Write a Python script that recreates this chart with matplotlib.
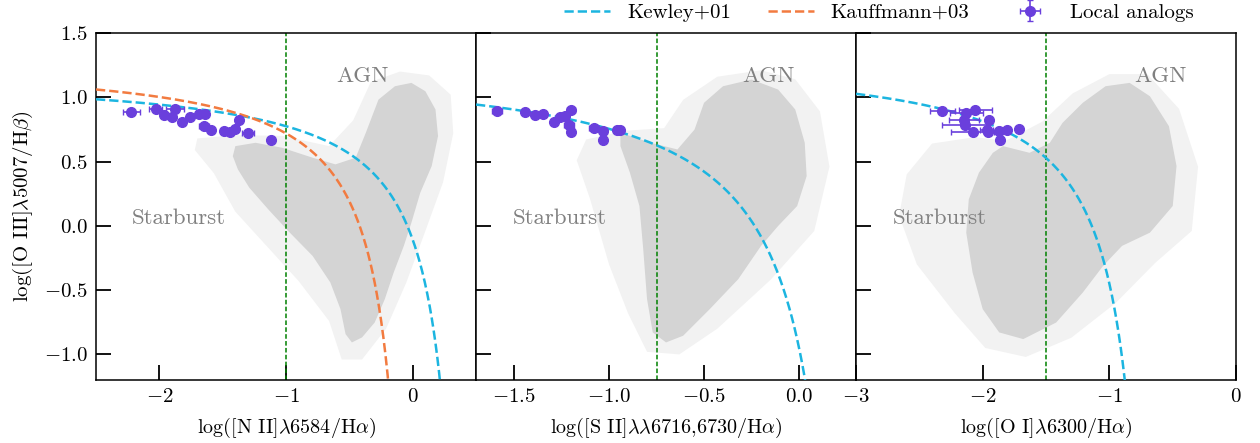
import numpy as np
import matplotlib
matplotlib.use('Agg')
import matplotlib.pyplot as plt
from matplotlib.patches import Polygon

plt.rcParams['font.family'] = 'serif'
plt.rcParams['font.serif'] = ['cmr10']
plt.rcParams['mathtext.fontset'] = 'cm'
plt.rcParams['axes.formatter.use_mathtext'] = True
plt.rcParams['font.size'] = 15

C_KEW  = '#1cb5e0'
C_KAU  = '#f27b40'
C_PTS  = '#6a3fdc'
C_CLD  = '#d4d4d4'
C_HALO = '#f2f2f2'

# ── Demarcation lines: y = a / (x - b) + c ─────────────────────────────────────
KEW_NII = [0.61, 0.47, 1.19]
KEW_SII = [0.72, 0.32, 1.30]
KEW_OI  = [0.73, -0.59, 1.33]
KAU_NII = [0.61, 0.05, 1.30]
AGN_CUT = [-1.0, -0.75, -1.5]      # vertical green lines

# ── Local analogs ──────────────────────────────────────────────────────────────
n2_x    = [-2.22, -2.03, -1.96, -1.90, -1.875, -1.82, -1.76, -1.69, -1.64, -1.65,
           -1.59, -1.49, -1.44, -1.40, -1.37, -1.30, -1.12]
n2_y    = [0.884, 0.905, 0.863, 0.845, 0.905, 0.806, 0.845, 0.871, 0.871, 0.778,
           0.749, 0.739, 0.731, 0.755, 0.822, 0.726, 0.667]
n2_xerr = [0.07, 0.05, 0.02, 0.03, 0.07, 0.01, 0.02, 0.02, 0.02, 0.04,
           0.01, 0.01, 0.01, 0.01, 0.01, 0.05, 0.0]

s2_x    = [-1.59, -1.44, -1.39, -1.35, -1.29, -1.26, -1.23, -1.20, -1.21, -1.20,
           -1.08, -1.03, -1.03, -0.96, -0.94]
s2_y    = [0.897, 0.884, 0.863, 0.869, 0.806, 0.845, 0.853, 0.902, 0.781, 0.731,
           0.762, 0.737, 0.669, 0.749, 0.742]
s2_xerr = [0.025, 0.01, 0.01, 0.01, 0.01, 0.02, 0.01, 0.02, 0.025, 0.01,
           0.025, 0.02, 0.01, 0.01, 0.01]
s2_yerr = [0.03, 0.01, 0.01, 0.01, 0.01, 0.01, 0.01, 0.02, 0.02, 0.02,
           0.01, 0.02, 0.01, 0.01, 0.01]

o1_x    = [-2.32, -2.13, -2.06, -2.15, -1.95, -2.14, -2.08, -1.97, -1.87, -1.81,
           -1.71, -1.86, -1.96]
o1_y    = [0.894, 0.879, 0.902, 0.822, 0.822, 0.781, 0.729, 0.749, 0.739, 0.744,
           0.752, 0.669, 0.731]
o1_xerr = [0.10, 0.13, 0.13, 0.12, 0.02, 0.18, 0.17, 0.05, 0.02, 0.02,
           0.01, 0.01, 0.02]

# ── SDSS cloud outlines (dense core + sparse halo) ─────────────────────────────
n2_core_x = [-1.40, -1.24, -1.03, -0.79, -0.61, -0.45, -0.37, -0.27, -0.14, -0.01,
             0.10, 0.18, 0.20, 0.15, 0.06, -0.01, -0.07, -0.15, -0.22, -0.30,
             -0.40, -0.48, -0.53, -0.57, -0.65, -0.79, -0.97, -1.14, -1.29, -1.38, -1.42]
n2_core_y = [0.620, 0.646, 0.607, 0.530, 0.478, 0.530, 0.724, 0.982, 1.086, 1.112,
             1.047, 0.905, 0.698, 0.465, 0.258, 0.025, -0.156, -0.363, -0.570, -0.752,
             -0.868, -0.907, -0.842, -0.648, -0.441, -0.234, -0.053, 0.128, 0.297, 0.439, 0.542]
n2_halo_x = [-1.70, -1.40, -1.03, -0.66, -0.47, -0.33, -0.10, 0.13, 0.30, 0.32,
             0.24, 0.10, -0.05, -0.21, -0.40, -0.56, -0.66, -0.90, -1.15, -1.40, -1.57, -1.72]
n2_halo_y = [0.680, 0.705, 0.700, 0.620, 0.820, 1.120, 1.200, 1.170, 1.020, 0.720,
             0.340, -0.040, -0.440, -0.800, -1.040, -1.040, -0.740, -0.430, -0.160, 0.110, 0.410, 0.590]

s2_core_x = [-0.94, -0.78, -0.64, -0.55, -0.50, -0.40, -0.25, -0.11, -0.02, 0.03,
             0.04, -0.01, -0.11, -0.20, -0.32, -0.47, -0.61, -0.70, -0.77, -0.80,
             -0.82, -0.84, -0.89, -0.94]
s2_core_y = [0.724, 0.646, 0.594, 0.749, 0.957, 1.086, 1.138, 1.060, 0.905, 0.646,
             0.387, 0.154, -0.001, -0.156, -0.415, -0.648, -0.855, -0.907, -0.829, -0.570,
             -0.182, 0.154, 0.413, 0.620]
s2_halo_x = [-1.12, -0.91, -0.71, -0.61, -0.43, -0.20, -0.02, 0.11, 0.16, 0.08,
             -0.15, -0.43, -0.63, -0.80, -0.90, -1.00, -1.10, -1.17]
s2_halo_y = [0.672, 0.740, 0.760, 0.980, 1.160, 1.210, 1.140, 0.890, 0.460, -0.040,
             -0.420, -0.800, -1.000, -0.980, -0.680, -0.300, 0.210, 0.510]

o1_core_x = [-1.84, -1.63, -1.47, -1.37, -1.21, -1.03, -0.84, -0.68, -0.53, -0.47,
             -0.50, -0.68, -0.90, -1.05, -1.21, -1.42, -1.68, -1.87, -2.00, -2.08,
             -2.13, -2.11, -2.03, -1.92]
o1_core_y = [0.620, 0.568, 0.646, 0.801, 0.957, 1.086, 1.112, 1.008, 0.775, 0.465,
             0.154, -0.053, -0.156, -0.312, -0.519, -0.752, -0.881, -0.829, -0.648, -0.363,
             -0.053, 0.206, 0.413, 0.568]
o1_halo_x = [-2.40, -2.06, -1.82, -1.53, -1.29, -1.00, -0.70, -0.45, -0.30, -0.35,
             -0.64, -0.95, -1.30, -1.66, -1.98, -2.22, -2.52, -2.66, -2.60]
o1_halo_y = [0.640, 0.690, 0.660, 0.810, 1.030, 1.180, 1.180, 0.910, 0.460, -0.040,
             -0.290, -0.600, -0.870, -1.020, -0.950, -0.680, -0.300, 0.080, 0.400]

# ── Panel specs ────────────────────────────────────────────────────────────────
panels = [
    dict(xlim=(-2.5, 0.5), xticks=[-2, -1, 0], fmt='{:.0f}',
         xlabel=r'log([N II]$\lambda$6584/H$\alpha$)',
         kew=KEW_NII, kau=KAU_NII, cut=AGN_CUT[0],
         core=(n2_core_x, n2_core_y), halo=(n2_halo_x, n2_halo_y),
         pts=(n2_x, n2_y, n2_xerr, 0.01),
         sb=(-1.85, 0.06), agn=(-0.40, 1.16)),
    dict(xlim=(-1.7, 0.3), xticks=[-1.5, -1.0, -0.5, 0.0], fmt='{:.1f}',
         xlabel=r'log([S II]$\lambda\lambda$6716,6730/H$\alpha$)',
         kew=KEW_SII, kau=None, cut=AGN_CUT[1],
         core=(s2_core_x, s2_core_y), halo=(s2_halo_x, s2_halo_y),
         pts=(s2_x, s2_y, s2_xerr, s2_yerr),
         sb=(-1.26, 0.06), agn=(-0.16, 1.16)),
    dict(xlim=(-3.0, 0.0), xticks=[-3, -2, -1, 0], fmt='{:.0f}',
         xlabel=r'log([O I]$\lambda$6300/H$\alpha$)',
         kew=KEW_OI, kau=None, cut=AGN_CUT[2],
         core=(o1_core_x, o1_core_y), halo=(o1_halo_x, o1_halo_y),
         pts=(o1_x, o1_y, o1_xerr, 0.01),
         sb=(-2.34, 0.06), agn=(-0.60, 1.16)),
]
yticks = [-1.0, -0.5, 0.0, 0.5, 1.0, 1.5]


def demarc(ax, coef, xlo, color, label):
    a, b, c = coef
    x = np.linspace(xlo, b - 0.02, 600)
    y = a / (x - b) + c
    m = y > -1.3
    ax.plot(x[m], y[m], ls='--', color=color, lw=1.8, label=label, zorder=3)


fig, axes = plt.subplots(1, 3, figsize=(12.6, 4.43), dpi=100, sharey=True)
fig.subplots_adjust(left=0.0762, right=0.981, bottom=0.142, top=0.9255, wspace=0)

for ax, p in zip(axes, panels):
    ax.add_patch(Polygon(np.column_stack(p['halo']), closed=True,
                         facecolor=C_HALO, edgecolor='none', zorder=1))
    ax.add_patch(Polygon(np.column_stack(p['core']), closed=True,
                         facecolor=C_CLD, edgecolor='none', zorder=1))
    demarc(ax, p['kew'], p['xlim'][0], C_KEW, 'Kewley+01')
    if p['kau'] is not None:
        demarc(ax, p['kau'], p['xlim'][0], C_KAU, 'Kauffmann+03')
    ax.axvline(p['cut'], color='green', ls='--', lw=1.1, dashes=(3, 1.5), zorder=2)
    x, y, xe, ye = p['pts']
    ax.errorbar(x, y, xerr=xe, yerr=ye, fmt='o', color=C_PTS, ms=7,
                elinewidth=1.2, capsize=2, capthick=1.0, label='Local analogs', zorder=5)
    ax.text(*p['sb'], 'Starburst', color='gray', fontsize=16.5, ha='center', va='center')
    ax.text(*p['agn'], 'AGN', color='gray', fontsize=16.5, ha='center', va='center')

    ax.set_xlim(*p['xlim'])
    ax.set_ylim(-1.2, 1.5)
    ax.set_xticks(p['xticks'])
    ax.set_xticklabels(['$' + p['fmt'].format(t) + '$' for t in p['xticks']])
    ax.set_yticks(yticks)
    ax.set_xlabel(p['xlabel'], fontsize=14.5, labelpad=7)
    ax.tick_params(direction='in', length=11, width=1.3, labelsize=15, pad=6)
    for s in ax.spines.values():
        s.set_linewidth(1.1)

axes[0].set_yticklabels(['${:.1f}$'.format(t) for t in yticks])
axes[0].set_ylabel(r'log([O III]$\lambda$5007/H$\beta$)', fontsize=15, labelpad=6)
for ax in axes[1:]:
    ax.tick_params(labelleft=False)

h, l = axes[0].get_legend_handles_labels()
fig.legend(h, l, loc='upper right', bbox_to_anchor=(0.962, 1.035), ncol=3,
           frameon=False, fontsize=15, columnspacing=1.8, handlelength=2.2,
           handletextpad=0.8)

fig.savefig('out.png', dpi=100)
